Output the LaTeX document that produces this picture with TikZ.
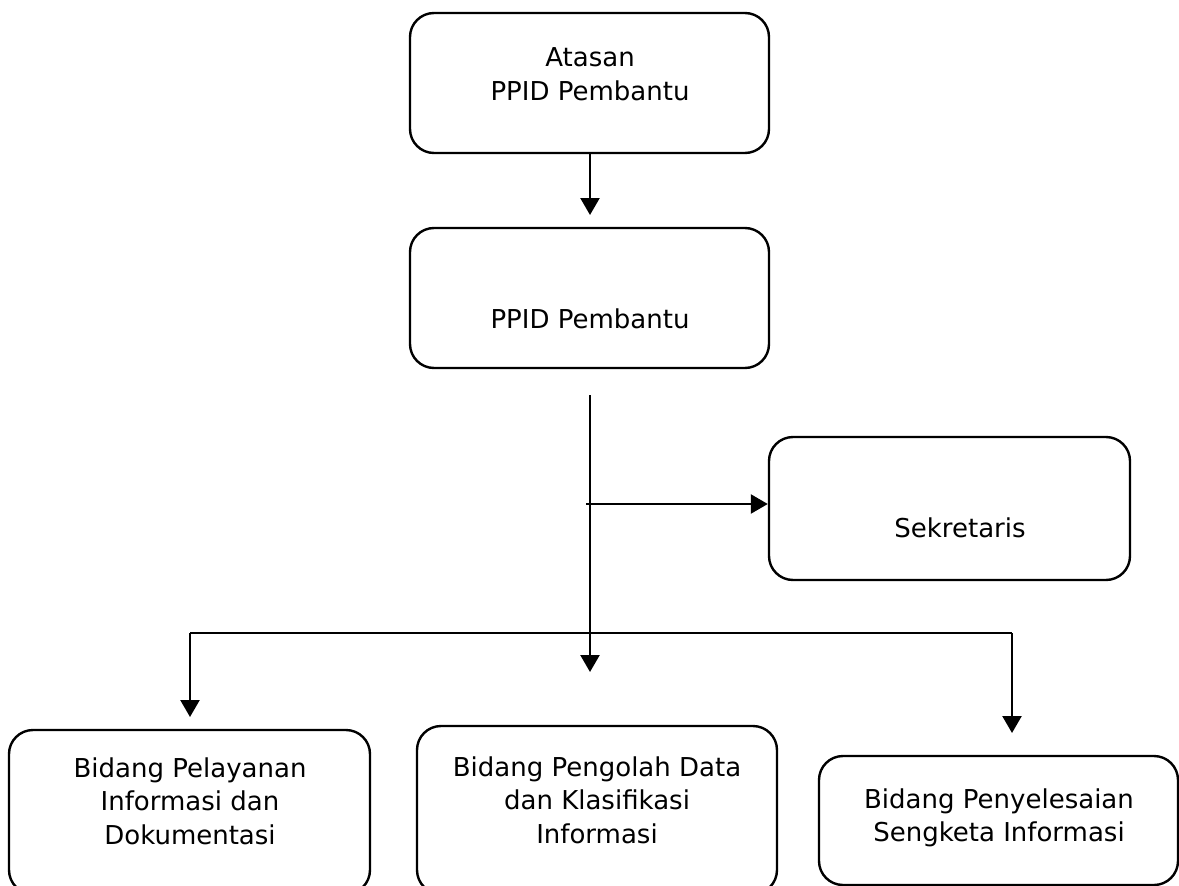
\documentclass[tikz,border=0pt]{standalone}
\usepackage{fontspec}
\setmainfont{DejaVu Sans}
\usetikzlibrary{arrows.meta}
\begin{document}
\begin{tikzpicture}[x=1pt,y=-1pt,
  box/.style={draw=black,line width=2.4pt,rounded corners=24pt,inner sep=0pt,fill=none},
  lbl/.style={align=center,inner sep=0pt,font=\fontsize{26}{33.5}\selectfont},
  conn/.style={line width=2.4pt},
  arr/.style={line width=2.4pt,-{Triangle[length=17pt,width=19pt]}}]
\useasboundingbox[fill=white] (0,0) rectangle (1179,886);
% boxes
\node[box,minimum width=359pt,minimum height=140pt] (atasan) at (589.5,83) {};
\node[box,minimum width=359pt,minimum height=140pt] (ppid) at (589.5,298) {};
\node[box,minimum width=361pt,minimum height=143pt] (sek) at (949.5,508.5) {};
\node[box,minimum width=361pt,minimum height=164pt] (b1) at (189.5,812) {};
\node[box,minimum width=360pt,minimum height=168pt] (b2) at (597,810) {};
\node[box,minimum width=359pt,minimum height=129pt] (b3) at (998.5,820.5) {};
% texts
\node[lbl] (tatasan) at (590,74) {Atasan\\PPID Pembantu};
\node[lbl] (tppid) at (590,319) {PPID Pembantu};
\node[lbl] (tsek) at (960,528) {Sekretaris};
\node[lbl] (tb1) at (190,801) {Bidang Pelayanan\\Informasi dan\\Dokumentasi};
\node[lbl] (tb2) at (597,800) {Bidang Pengolah Data\\dan Klasifikasi\\Informasi};
\node[lbl] (tb3) at (999,818) {Bidang Penyelesaian\\Sengketa Informasi};
% free ends
\coordinate (a1) at (590,215);
\coordinate (trunkTop) at (590,395);
\coordinate (trunkEnd) at (590,672);
\coordinate (sekStart) at (586,504);
\coordinate (busL) at (190,633);
\coordinate (busR) at (1012,633);
\coordinate (endL) at (190,717);
\coordinate (endR) at (1012,733);
% connectors
\draw[arr] (atasan.south -| a1) -- (a1);
\draw[arr] (trunkTop) -- (trunkEnd);
\draw[arr] (sekStart) -- (sek.west |- sekStart);
\draw[conn] (busL) -- (busR);
\draw[arr] (busL) -- (endL);
\draw[arr] (busR) -- (endR);
\end{tikzpicture}
\end{document}
